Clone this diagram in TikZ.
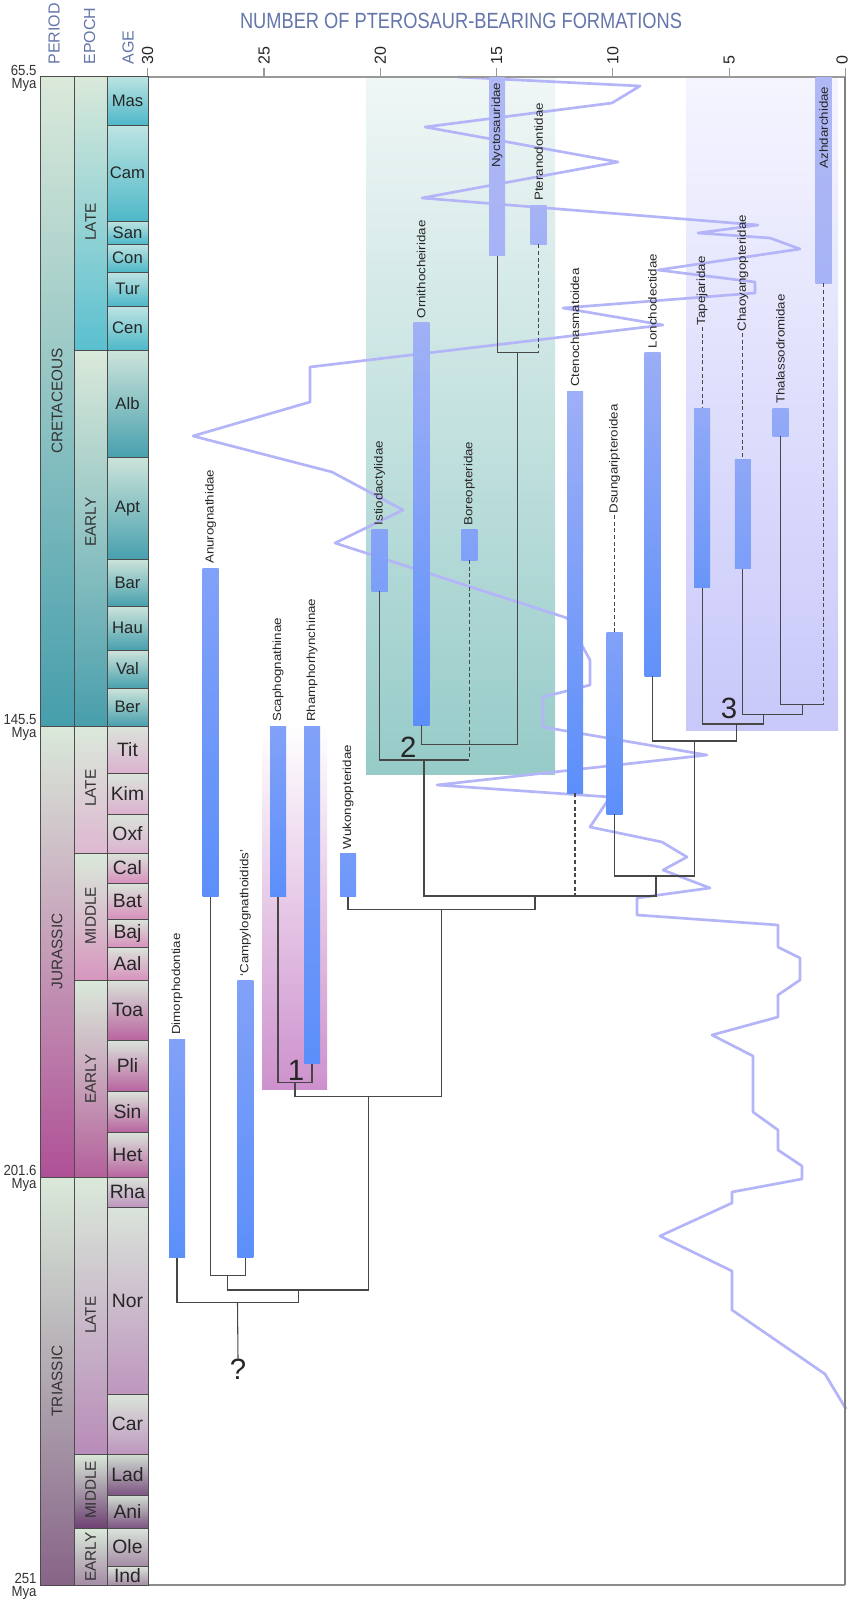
\documentclass[tikz,border=0pt]{standalone}
\usepackage{fontspec}
\setmainfont{Liberation Sans}
\usepackage{xcolor}
\usepackage{tikz}

% time scale colours
\definecolor{pale}{RGB}{218,233,218}
\definecolor{crLtop}{RGB}{190,228,226}\definecolor{crL}{RGB}{78,184,200}
\definecolor{crEtop}{RGB}{205,228,218}\definecolor{crE}{RGB}{72,160,174}
\definecolor{juLtop}{RGB}{218,228,218}\definecolor{juL}{RGB}{220,178,208}
\definecolor{juMtop}{RGB}{218,228,218}\definecolor{juM}{RGB}{215,145,188}
\definecolor{juEtop}{RGB}{218,228,218}\definecolor{juE}{RGB}{185,100,160}
\definecolor{trLtop}{RGB}{218,228,218}\definecolor{trL}{RGB}{190,150,190}
\definecolor{trMtop}{RGB}{210,222,210}\definecolor{trM}{RGB}{125,85,130}
\definecolor{trEtop}{RGB}{218,228,218}\definecolor{trE}{RGB}{165,140,165}
\definecolor{crLep}{RGB}{90,192,208}\definecolor{crEep}{RGB}{72,158,172}
\definecolor{juLep}{RGB}{222,185,210}\definecolor{juMep}{RGB}{215,150,190}
\definecolor{juEep}{RGB}{180,95,155}\definecolor{trLep}{RGB}{185,140,185}
\definecolor{trMep}{RGB}{110,65,115}\definecolor{trEep}{RGB}{165,140,165}
\definecolor{crP}{RGB}{70,158,172}\definecolor{juP}{RGB}{175,80,150}
\definecolor{trP}{RGB}{135,100,135}
% boxes, bars, curve
\definecolor{tealtop}{RGB}{240,247,246}\definecolor{tealbot}{RGB}{150,203,200}
\definecolor{lavtop}{RGB}{245,245,255}\definecolor{lavbot}{RGB}{200,200,250}
\definecolor{pinkbot}{RGB}{205,145,205}
\definecolor{curvecol}{RGB}{180,180,248}
\definecolor{barL}{RGB}{176,184,245}\definecolor{barD}{RGB}{92,143,250}
\definecolor{hdrcol}{RGB}{100,118,170}

\newcommand{\taxbar}[6]{%
  \node[barbox, minimum height={(#4-#3)*0.75pt}, top color=barL!#5!barD, bottom color=barL!#6!barD] (#1) at (#2,{(#3+#4)/2}) {};}

\begin{document}
\begin{tikzpicture}[x=0.75pt, y=-0.75pt,
    cell/.style={draw=black!70, line width=0.5pt},
    barbox/.style={rectangle, minimum width=12pt, inner sep=0pt, outer sep=0pt},
    cladelabel/.style={rotate=90, yscale=0.88, inner sep=1pt, font=\fontsize{10}{10}\selectfont, text=black!85},
    treeline/.style={draw=black!72, line width=0.8pt},
    dashline/.style={treeline, dash pattern=on 3pt off 2pt},
    rangecurve/.style={draw=curvecol, line width=2pt, line join=round},
    bignum/.style={font=\fontsize{22}{22}\selectfont, text=black!85, inner sep=0pt},
    hdr/.style={rotate=90, anchor=west, inner sep=1pt, font=\fontsize{12}{12}\selectfont, text=hdrcol},
    myalab/.style={inner sep=1pt, xscale=0.9, font=\fontsize{11}{11}\selectfont, text=black!80},
    axisline/.style={draw=black!40, line width=0.8pt}]

\useasboundingbox[fill=white] (0,0) rectangle (850,1600);

% group boxes
\shade[top color=tealtop, bottom color=tealbot] (366,77) rectangle (555,774);
\shade[top color=lavtop, bottom color=lavbot] (686,77) rectangle (838,730);
\shade[top color=white, bottom color=pinkbot] (262,726) rectangle (327,1089);

% formation counts
\draw[rangecurve] (458,77) -- (640,86) -- (612,103) -- (425,127) -- (618,162) -- (422,198)
  -- (758,225) -- (698,233) -- (770,238) -- (800,249) -- (658,270) -- (755,282) -- (755,293)
  -- (563,308) -- (663,325) -- (310,367) -- (310,402) -- (193,436) -- (332,472) -- (403,510)
  -- (335,543) -- (567,618) -- (590,660) -- (590,685) -- (543,697) -- (543,727) -- (707,755)
  -- (437,785) -- (610,797) -- (590,827) -- (662,842) -- (687,857) -- (663,870) -- (710,888)
  -- (637,898) -- (637,915) -- (778,925) -- (778,947) -- (800,958) -- (800,980) -- (778,995)
  -- (778,1017) -- (712,1035) -- (753,1056) -- (753,1112) -- (778,1130) -- (778,1150)
  -- (802,1166) -- (802,1179) -- (732,1192) -- (732,1203) -- (660,1236) -- (732,1271)
  -- (732,1310) -- (825,1374) -- (846,1409);

% axis
\draw[axisline] (148,77) -- (845,77);
\draw[draw=black!50, line width=1.5pt] (845,77) -- (845,1585);
\draw[draw=black!45, line width=1pt] (148,1585) -- (845,1585);
\foreach \n in {0,5,...,30} {
  \draw[axisline] ({845.5-23.26*\n},68) -- ({845.5-23.26*\n},77);
  \node[hdr, text=black!85] (tick\n) at ({min(842,845.5-23.26*\n)},66) {\n};
}
\node[font=\fontsize{16.5}{16.5}\selectfont, text=hdrcol, xscale=0.83] (title) at (461,21) {NUMBER OF PTEROSAUR-BEARING FORMATIONS};
\node[hdr] (hper) at (54,66) {PERIOD};
\node[hdr] (hepo) at (89.5,66) {EPOCH};
\node[hdr] (hage) at (128,66) {AGE};

% time scale
\foreach \ta/\tb/\cl/\nm in {76/726/crP/CRETACEOUS, 726/1177/juP/JURASSIC, 1177/1585/trP/TRIASSIC} {
  \path[cell, top color=pale, bottom color=\cl] (40,\ta) rectangle (74,\tb);
  \node[rotate=90, font=\fontsize{11.5}{11.5}\selectfont, text=black!80] (per-\nm) at (57,{(\ta+\tb)/2}) {\nm};
}
\foreach \ta/\tb/\cl/\nm/\ly in {76/350/crL/LATE/222, 350/726/crE/EARLY/522, 726/853/juL/LATE/788,
    853/980/juM/MIDDLE/916, 980/1177/juE/EARLY/1079, 1177/1454/trL/LATE/1315,
    1454/1528/trM/MIDDLE/1490, 1528/1585/trE/EARLY/1557} {
  \path[cell, top color=pale, bottom color=\cl ep] (74,\ta) rectangle (107,\tb);
  \node[rotate=90, font=\fontsize{11.5}{11.5}\selectfont, text=black!80] (ep-\ta) at (90.5,\ly) {\nm};
}
\foreach \ta/\tb/\nm/\cl/\fs in {76/125/Mas/crL/12.5, 125/221/Cam/crL/12.5, 221/244/San/crL/12.5,
    244/272/Con/crL/12.5, 272/306/Tur/crL/12.5, 306/350/Cen/crL/12.5, 350/457/Alb/crE/12.5,
    457/559/Apt/crE/12.5, 559/606/Bar/crE/12.5, 606/650/Hau/crE/12.5, 650/688/Val/crE/12.5,
    688/726/Ber/crE/12.5, 726/773/Tit/juL/14.5, 773/814/Kim/juL/14.5, 814/853/Oxf/juL/14.5,
    853/883/Cal/juM/14.5, 883/919/Bat/juM/14.5, 919/947/Baj/juM/14.5, 947/980/Aal/juM/14.5,
    980/1040/Toa/juE/14.5, 1040/1091/Pli/juE/14.5, 1091/1132/Sin/juE/14.5, 1132/1177/Het/juE/14.5,
    1177/1207/Rha/trL/14.5, 1207/1394/Nor/trL/14.5, 1394/1454/Car/trL/14.5, 1454/1495/Lad/trM/14.5,
    1495/1528/Ani/trM/14.5, 1528/1566/Ole/trE/14.5, 1566/1585/Ind/trE/14.5} {
  \path[cell, top color=\cl top, bottom color=\cl] (107,\ta) rectangle (148,\tb);
  \node[inner sep=0pt, font=\fontsize{\fs}{\fs}\selectfont, text=black!85] (age-\nm) at (127.5,{(\ta+\tb)/2}) {\nm};
}
\foreach \ty/\ma in {77/65.5, 726/145.5, 1177/201.6, 1585/251} {
  \node[myalab, anchor=south east] (ma\ty) at (38,\ty) {\ma};
  \node[myalab, anchor=north east] (mya\ty) at (38,\ty) {Mya};
}

% tree
\coordinate (jnp) at (517.7,352.4);
\coordinate (jorn) at (517.7,744.3);
\coordinate (jib) at (424,760);
\coordinate (jpt) at (424,896);
\coordinate (jdl) at (656,896);
\coordinate (jds) at (656,876);
\coordinate (jla) at (694.3,876);
\coordinate (jlo) at (694.3,741);
\coordinate (jaz) at (736.7,741);
\coordinate (jtp) at (736.7,724);
\coordinate (jtc) at (763.3,724);
\coordinate (jch) at (763.3,714.3);
\coordinate (jct) at (802.7,714.3);
\coordinate (jth) at (802.7,704.3);
\coordinate (jmo) at (535,896);
\coordinate (jwu) at (535,909.3);
\coordinate (jrh) at (441.7,909.3);
\coordinate (jsr) at (441.7,1096.7);
\coordinate (jb1) at (295,1082.6);
\coordinate (jnd) at (368.3,1096.7);
\coordinate (jnr) at (368.3,1290);
\coordinate (jan) at (227.7,1290);
\coordinate (jac) at (227.7,1275.7);
\coordinate (jdi) at (298.3,1290);
\coordinate (jroot) at (237.5,1302.7);

% bars
\taxbar{nycto}{497.2}{77}{255.5}{100}{88}
\taxbar{ptera}{538.7}{205}{244.4}{88}{82}
\taxbar{azhd}{823.7}{77}{283.2}{100}{88}
\taxbar{ornitho}{421.3}{322.5}{725}{82}{0}
\taxbar{istio}{379.5}{529.6}{591.2}{50}{38}
\taxbar{boreo}{469.3}{529.6}{560}{48}{42}
\taxbar{cteno}{575}{391.2}{793.3}{78}{0}
\taxbar{dsung}{614.7}{632.7}{814.3}{45}{0}
\taxbar{lonch}{652.5}{352.4}{676}{75}{5}
\taxbar{tapej}{702.2}{408.2}{587.6}{65}{15}
\taxbar{chaoy}{742.8}{459.5}{568.9}{60}{38}
\taxbar{thalas}{780.5}{408.2}{436.3}{65}{60}
\taxbar{anuro}{210.5}{568}{896.6}{45}{0}
\taxbar{scaph}{278}{726}{896.6}{45}{0}
\taxbar{rhamph}{312}{726}{1063.9}{45}{0}
\taxbar{wukong}{348}{853.4}{896.6}{30}{20}
\taxbar{campy}{245.3}{980.8}{1257.7}{45}{0}
\taxbar{dimorph}{177}{1039}{1257.7}{45}{0}

\draw[treeline] (nycto.south) |- (ptera.south |- jnp);
\draw[dashline] (ptera.south) -- (ptera.south |- jnp);
\draw[treeline] (jnp) -- (jorn) -| (ornitho.south);
\draw[treeline] (istio.south) |- (boreo.south |- jib);
\draw[dashline] (boreo.south) -- (boreo.south |- jib);
\draw[treeline] (jib) -- (jpt) -- (jdl) -- (jds);
\draw[dashline] (cteno.south) -- (cteno.south |- jpt);
\draw[treeline] (dsung.south) |- (jla) -- (jlo);
\draw[treeline] (lonch.south) |- (jaz) -- (jtp);
\draw[treeline] (tapej.south) |- (jtc) -- (jch);
\draw[treeline] (chaoy.south) |- (jct) -- (jth);
\draw[treeline] (thalas.south) |- (azhd.south |- jth);
\draw[dashline] (azhd.south) -- (azhd.south |- jth);
\draw[treeline] (jmo) -- (jwu) -| (wukong.south);
\draw[treeline] (jrh) -- (jsr);
\draw[treeline] (scaph.south) |- (rhamph.south |- jb1) -- (rhamph.south);
\draw[treeline] (jb1) |- (jsr);
\draw[treeline] (jnd) -- (jnr) -- (jan) -- (jac);
\draw[treeline] (anuro.south) |- (campy.south |- jac) -- (campy.south);
\draw[treeline] (jdi) -- (jdi |- jroot) -| (dimorph.south);

% labels
\node[cladelabel, anchor=east] (nycto-l) at ([yshift=-3pt]nycto.north) {Nyctosauridae};
\node[cladelabel, anchor=east] (azhd-l) at ([yshift=-6pt]azhd.north) {Azhdarchidae};
\node[cladelabel, anchor=west] (ptera-l) at ([yshift=2pt]ptera.north) {Pteranodontidae};
\node[cladelabel, anchor=west] (ornitho-l) at ([yshift=2pt]ornitho.north) {Ornithocheiridae};
\node[cladelabel, anchor=west] (istio-l) at ([yshift=2pt]istio.north) {Istiodactylidae};
\node[cladelabel, anchor=west] (boreo-l) at ([yshift=2pt]boreo.north) {Boreopteridae};
\node[cladelabel, anchor=west] (cteno-l) at ([yshift=2pt]cteno.north) {Ctenochasmatoidea};
\node[cladelabel, anchor=west] (lonch-l) at ([yshift=2pt]lonch.north) {Lonchodectidae};
\node[cladelabel, anchor=west] (thalas-l) at ([yshift=2pt]thalas.north) {Thalassodromidae};
\node[cladelabel, anchor=west] (tapej-l) at (702.2,327) {Tapejaridae};
\node[cladelabel, anchor=west] (chaoy-l) at (742.8,333) {Chaoyangopteridae};
\node[cladelabel, anchor=west] (dsung-l) at (614.7,515) {Dsungaripteroidea};
\draw[dashline] (tapej-l.west) -- (tapej.north);
\draw[dashline] (chaoy-l.west) -- (chaoy.north);
\draw[dashline] (dsung-l.west) -- (dsung.north);
\node[cladelabel, anchor=west] (anuro-l) at ([yshift=2pt]anuro.north) {Anurognathidae};
\node[cladelabel, anchor=west] (scaph-l) at ([yshift=2pt]scaph.north) {Scaphognathinae};
\node[cladelabel, anchor=west] (rhamph-l) at ([yshift=2pt]rhamph.north) {Rhamphorhynchinae};
\node[cladelabel, anchor=west] (wukong-l) at ([yshift=2pt]wukong.north) {Wukongopteridae};
\node[cladelabel, anchor=west] (campy-l) at ([yshift=2pt]campy.north) {`Campylognathoidids'};
\node[cladelabel, anchor=west] (dimorph-l) at ([yshift=2pt]dimorph.north) {Dimorphodontiae};

\node[bignum] (g1) at (296,1070) {1};
\node[bignum] (g2) at (408.3,747.5) {2};
\node[bignum] (g3) at (729,708) {3};
\node[bignum] (qmark) at (238,1369) {?};
\draw[treeline] (jroot) -- (qmark.north);
\end{tikzpicture}
\end{document}
